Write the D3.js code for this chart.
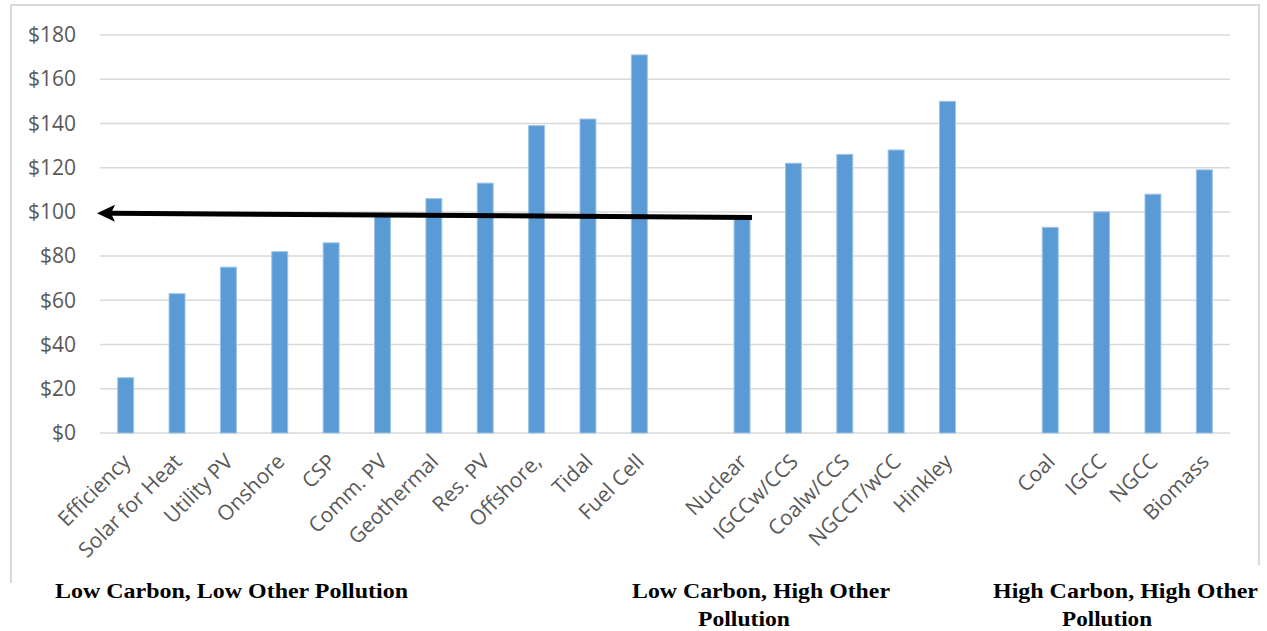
<!DOCTYPE html>
<html>
<head>
<meta charset="utf-8">
<script src="https://cdn.jsdelivr.net/npm/d3@7/dist/d3.min.js"></script>
<style>
  html, body { margin: 0; padding: 0; background: #fff; }
  svg { display: block; }
</style>
</head>
<body>
<svg id="chart" width="1267" height="631"></svg>
<script>
// Levelized cost of electricity by technology, grouped by pollution profile.
// null entries are spacer slots between the three groups.
const categories = [
  "Efficiency", "Solar for Heat", "Utility PV", "Onshore", "CSP", "Comm. PV",
  "Geothermal", "Res. PV", "Offshore,", "Tidal", "Fuel Cell",
  null,
  "Nuclear", "IGCCw/CCS", "Coalw/CCS", "NGCCT/wCC", "Hinkley",
  null,
  "Coal", "IGCC", "NGCC", "Biomass"
];
const costs = [
  25, 63, 75, 82, 86, 98,
  106, 113, 139, 142, 171,
  null,
  97, 122, 126, 128, 150,
  null,
  93, 100, 108, 119
];
const yTicks = [0, 20, 40, 60, 80, 100, 120, 140, 160, 180];
const groupLabels = [
  ["Low Carbon, Low Other Pollution"],
  ["Low Carbon, High Other", "Pollution"],
  ["High Carbon, High Other", "Pollution"]
];
const unitTitle = "($/MWh)";
// Benchmark arrow: from the Nuclear bar back to the axis at roughly $100.
const arrowFrom = { category: "Nuclear", value: 97.5 };
const arrowTo = { value: 99.4 };

const svg = d3.select("#chart");
const plot = { left: 100, right: 1230, top: 35, bottom: 433 };

const x = d3.scaleBand()
  .domain(d3.range(categories.length))
  .range([plot.left, plot.right])
  .paddingInner(0.69)
  .paddingOuter(0.345);

const y = d3.scaleLinear()
  .domain([0, 180])
  .range([plot.bottom, plot.top]);

// Chart frame
svg.append("path")
  .attr("d", "M11,583 L11,5 L1259,5 L1259,565")
  .attr("stroke", "#d9d9d9")
  .attr("stroke-width", 2)
  .attr("fill", "none");

// Unit title, largely above the top edge of the canvas
svg.append("text")
  .attr("x", 113)
  .attr("y", -4)
  .attr("font-family", "Open Sans, sans-serif")
  .attr("font-size", 28)
  .attr("fill", "#595959")
  .text(unitTitle);

// Gridlines
svg.append("g")
  .selectAll("line")
  .data(yTicks)
  .join("line")
  .attr("x1", plot.left)
  .attr("x2", plot.right)
  .attr("y1", d => y(d))
  .attr("y2", d => y(d))
  .attr("stroke", "#d9d9d9")
  .attr("stroke-width", 1.5);

// Y axis labels
const yAxis = d3.axisLeft(y)
  .tickValues(yTicks)
  .tickSize(0)
  .tickPadding(0)
  .tickFormat(d => "$" + d);
const yg = svg.append("g")
  .attr("transform", `translate(${plot.left - 24},0)`)
  .call(yAxis);
yg.select(".domain").remove();
yg.selectAll("text")
  .attr("font-family", "Open Sans, sans-serif")
  .attr("font-size", 21)
  .attr("fill", "#595959");

// Bars
const barData = categories
  .map((c, i) => ({ i, c, v: costs[i] }))
  .filter(d => d.c !== null);

svg.append("g")
  .selectAll("rect")
  .data(barData)
  .join("rect")
  .attr("x", d => x(d.i))
  .attr("width", x.bandwidth())
  .attr("y", d => y(d.v))
  .attr("height", d => y(0) - y(d.v))
  .attr("fill", "#5b9bd5")
  .attr("stroke", "#9dc3e6")
  .attr("stroke-width", 1);

// Category labels, rotated
const xAxis = d3.axisBottom(x)
  .tickSize(0)
  .tickPadding(0)
  .tickFormat(i => categories[i] || "");
const xg = svg.append("g")
  .attr("transform", `translate(0,${plot.bottom})`)
  .call(xAxis);
xg.select(".domain").remove();
xg.selectAll("text")
  .attr("font-family", "Open Sans, sans-serif")
  .attr("font-size", 21)
  .attr("fill", "#595959")
  .attr("text-anchor", "end")
  .attr("dy", 0)
  .attr("transform", "translate(6,30) rotate(-45)");

// Benchmark arrow
const ax1 = x(categories.indexOf(arrowFrom.category)) + x.bandwidth() + 2;
const ay1 = y(arrowFrom.value);
const ax2 = plot.left - 3;
const ay2 = y(arrowTo.value);
const ang = Math.atan2(ay2 - ay1, ax2 - ax1);
const headLen = 18, headHalf = 8.5;
const bx = ax2 - headLen * Math.cos(ang), by = ay2 - headLen * Math.sin(ang);
svg.append("line")
  .attr("x1", ax1).attr("y1", ay1)
  .attr("x2", bx + 4 * Math.cos(ang)).attr("y2", by + 4 * Math.sin(ang))
  .attr("stroke", "#000")
  .attr("stroke-width", 5);
svg.append("path")
  .attr("d", `M${ax2},${ay2}
    L${bx - headHalf * Math.sin(ang)},${by + headHalf * Math.cos(ang)}
    L${bx + 4 * Math.cos(ang)},${by + 4 * Math.sin(ang)}
    L${bx + headHalf * Math.sin(ang)},${by - headHalf * Math.cos(ang)} Z`)
  .attr("fill", "#000");

// Group labels under the chart
const groupPos = [
  [{ x: 55, w: 353 }],
  [{ x: 632, w: 258 }, { x: 698, w: 92 }],
  [{ x: 993, w: 265 }, { x: 1062, w: 90 }]
];
const lineY = [598, 626];
groupLabels.forEach((lines, g) => {
  lines.forEach((t, k) => {
    svg.append("text")
      .attr("x", groupPos[g][k].x)
      .attr("y", lineY[k])
      .attr("font-family", "Liberation Serif, Times New Roman, serif")
      .attr("font-weight", "bold")
      .attr("font-size", 22)
      .attr("fill", "#000")
      .attr("textLength", groupPos[g][k].w)
      .attr("lengthAdjust", "spacingAndGlyphs")
      .text(t);
  });
});
</script>
</body>
</html>
